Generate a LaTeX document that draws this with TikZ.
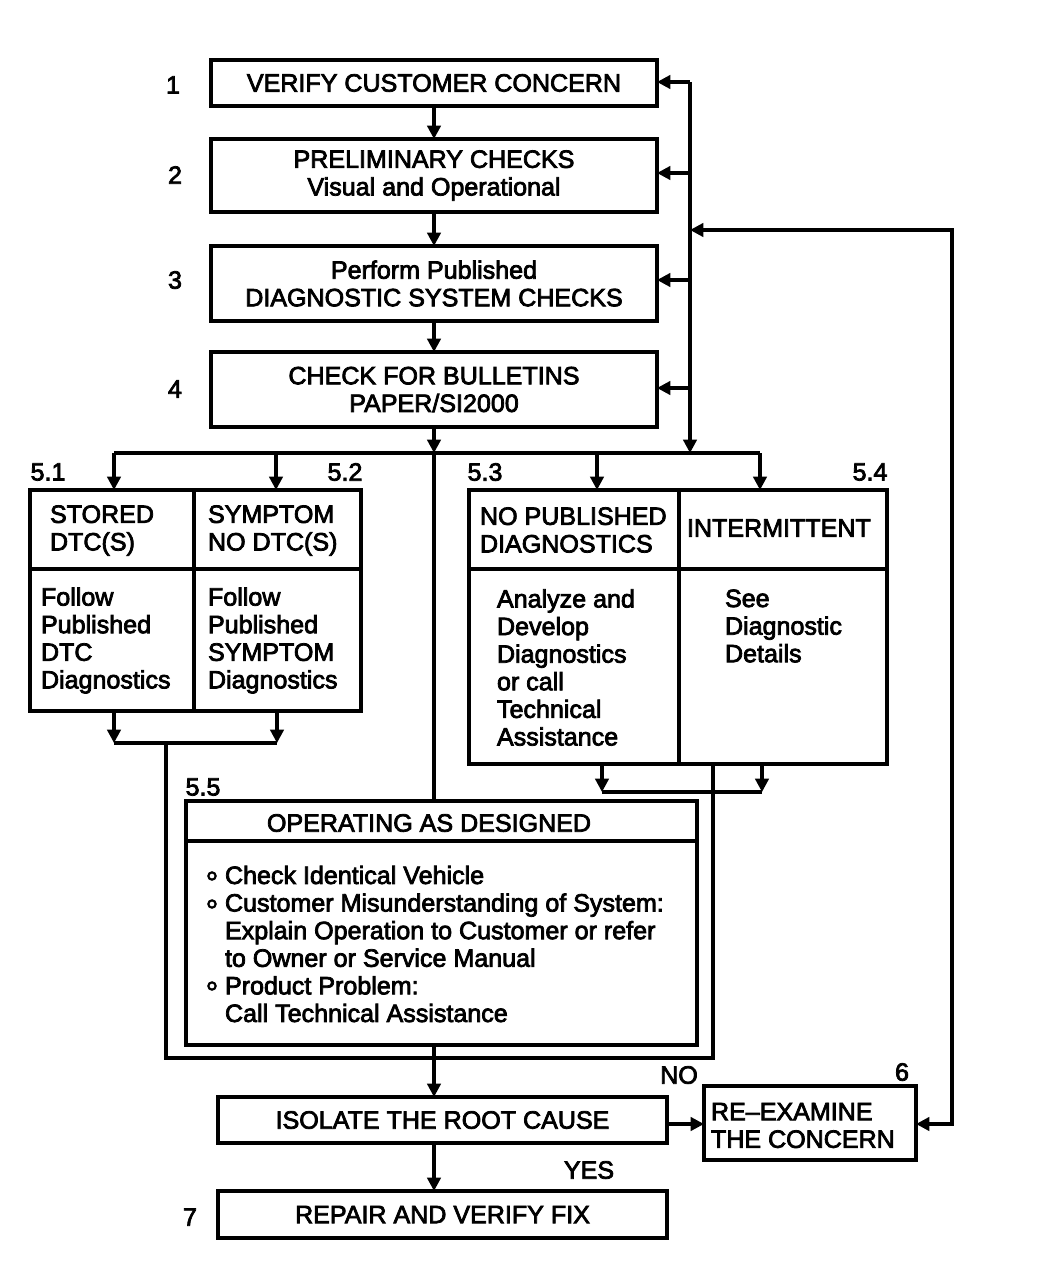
\documentclass[tikz,border=0pt]{standalone}
\usepackage{fontspec}
\setmainfont{Liberation Sans}[FakeBold=3]
\usetikzlibrary{arrows.meta}
\begin{document}
\begin{tikzpicture}[x=0.75pt,y=-0.75pt,
  every node/.style={font=\fontsize{18.8pt}{20.7pt}\selectfont, inner sep=0pt, outer sep=0pt},
  box/.style={draw, line width=2.4pt, align=center},
  wh/.style 2 args={minimum width=#1*0.75pt, minimum height=#2*0.75pt},
  ln/.style={line width=2.4pt},
  tip/.tip={Triangle[length=10pt,width=10pt]},
  arr/.style={ln, -tip},
  txt/.style={anchor=west, align=left},
  bul/.style={draw, line width=1.6pt, circle, minimum size=5.5pt},
]
\useasboundingbox[fill=white] (0,0) rectangle (1056,1276);

% main column
\node[box, wh={446}{46}] (b1) at (434,83) {VERIFY CUSTOMER CONCERN};
\node[box, wh={446}{73}] (b2) at (434,175.5) {PRELIMINARY CHECKS\\Visual and Operational};
\node[box, wh={446}{75}] (b3) at (434,283.5) {Perform Published\\DIAGNOSTIC SYSTEM CHECKS};
\node[box, wh={446}{75}] (b4) at (434,389.5) {CHECK FOR BULLETINS\\PAPER/SI2000};

\node (n1) at (173,85) {1};
\node (n2) at (175,175) {2};
\node (n3) at (175,280) {3};
\node (n4) at (175,389) {4};

\draw[arr] (b1) -- (b2);
\draw[arr] (b2) -- (b3);
\draw[arr] (b3) -- (b4);

% right feedback bus
\coordinate (rt) at (690,82);
\coordinate (r2) at (690,173);
\coordinate (r3) at (690,280);
\coordinate (r4) at (690,388);
\coordinate (rb) at (690,453);
\draw[arr] (rt) -- (rb);
\draw[arr] (rt) -- (b1.east |- rt);
\draw[arr] (r2) -- (b2.east |- r2);
\draw[arr] (r3) -- (b3.east |- r3);
\draw[arr] (r4) -- (b4.east |- r4);

% boxes 5.1/5.2
\node[box, wh={331}{221}] (f12) at (195.5,600.5) {};
\draw[ln] (194,490) -- (194,711);
\draw[ln] (30,569) -- (361,569);
\node[txt] (t51) at (50,530.5) {STORED\\DTC(S)};
\node[txt] (t52) at (208,530.5) {SYMPTOM\\NO DTC(S)};
\node[txt] (d51) at (41,640.5) {Follow\\Published\\DTC\\Diagnostics};
\node[txt] (d52) at (208,640.5) {Follow\\Published\\SYMPTOM\\Diagnostics};
\node (l51) at (48,472) {5.1};
\node (l52) at (345,472) {5.2};

% boxes 5.3/5.4
\node[box, wh={418}{274}] (f34) at (678,627) {};
\draw[ln] (679,490) -- (679,764);
\draw[ln] (469,569) -- (887,569);
\node[txt] (t53) at (480,530) {NO PUBLISHED\\DIAGNOSTICS};
\node[txt] (t54) at (687,528) {INTERMITTENT};
\node[txt] (d53) at (497,667.5) {Analyze and\\Develop\\Diagnostics\\or call\\Technical\\Assistance};
\node[txt] (d54) at (725,626) {See\\Diagnostic\\Details};
\node (l53) at (485,472) {5.3};
\node (l54) at (870,472) {5.4};

% box 5.5
\node[box, wh={511}{244}] (b55) at (441.5,923) {};
\draw[ln] (186,841) -- (697,841);
\node (t55) at (429,823) {OPERATING AS DESIGNED};
\node[txt] (d55) at (225,944) {Check Identical Vehicle\\
Customer Misunderstanding of System:\\
Explain Operation to Customer or refer\\
to Owner or Service Manual\\
Product Problem:\\
Call Technical Assistance};
\node[bul] (o1) at (212,876) {};
\node[bul] (o2) at (212,904) {};
\node[bul] (o3) at (212,986) {};
\node (l55) at (203,787) {5.5};

% distribution bus
\coordinate (busL) at (114,453);
\coordinate (bus2) at (276,453);
\coordinate (bus3) at (597,453);
\coordinate (busR) at (760,453);
\draw[arr] (b4.south) -- (b4.south |- busL);
\draw[ln] (b4.south |- busL) -- (b55.north -| b4.south);
\draw[ln] (busL) -- (busR);
\draw[arr] (busL) -- (f12.north -| busL);
\draw[arr] (bus2) -- (f12.north -| bus2);
\draw[arr] (bus3) -- (f34.north -| bus3);
\draw[arr] (busR) -- (f34.north -| busR);

% merges
\coordinate (m1) at (114,743);
\coordinate (m2) at (277,743);
\draw[arr] (f12.south -| m1) -- (m1);
\draw[arr] (f12.south -| m2) -- (m2);
\draw[ln] (m1) -- (m2);
\coordinate (m3) at (602,792);
\coordinate (m4) at (762,792);
\draw[arr] (f34.south -| m3) -- (m3);
\draw[arr] (f34.south -| m4) -- (m4);
\draw[ln] (m3) -- (m4);
\coordinate (lp) at (166,743);
\coordinate (rp) at (713,1058);
\draw[ln] (lp) |- (rp) -- (f34.south -| rp);

% bottom
\node[box, wh={449}{46}] (iso) at (442.5,1120) {ISOLATE THE ROOT CAUSE};
\node[box, wh={449}{47}] (rep) at (442.5,1214.5) {REPAIR AND VERIFY FIX};
\node[box, wh={212}{74}] (b6) at (810,1123) {};
\node[txt] (t6) at (711,1125.5) {RE–EXAMINE\\THE CONCERN};
\node (n6) at (902,1072) {6};
\node (n7) at (190,1217) {7};
\node (no) at (679,1075) {NO};
\node (yes) at (589,1170) {YES};

\draw[arr] (b55.south -| b4.south) -- (iso.north -| b4.south);
\draw[arr] (iso.south -| b4.south) -- (rep.north -| b4.south);
\coordinate (a6) at (0,1124);
\draw[arr] (iso.east |- a6) -- (b6.west |- a6);
\coordinate (fb) at (952,230);
\draw[ln, tip-tip] (b6.east |- a6) -| (fb) -- (fb -| rt);
\end{tikzpicture}
\end{document}
